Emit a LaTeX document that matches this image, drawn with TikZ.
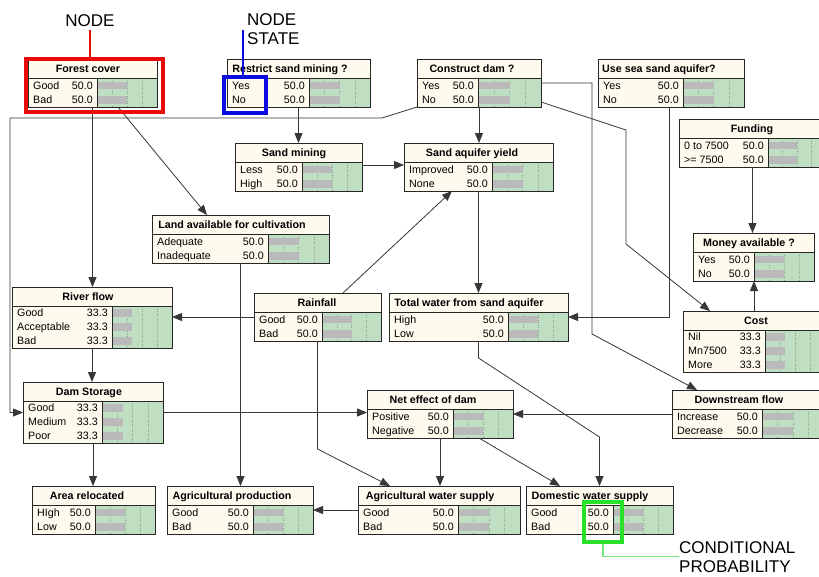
\documentclass[tikz,border=0pt]{standalone}
\usepackage{fontspec}
\setmainfont{Liberation Sans}
\usetikzlibrary{arrows.meta}

\definecolor{cream}{RGB}{255,250,238}
\definecolor{beliefgreen}{RGB}{192,222,194}
\definecolor{bargray}{RGB}{186,186,186}
\definecolor{gridgreen}{RGB}{135,160,135}
\definecolor{edgegray}{RGB}{55,55,55}
\definecolor{annotred}{RGB}{235,10,10}
\definecolor{annotblue}{RGB}{10,10,225}
\definecolor{annotgreen}{RGB}{40,225,40}
\definecolor{annotgreenline}{RGB}{120,230,120}

\tikzset{
  frame/.style={draw=black!85, line width=0.9pt},
  gridline/.style={draw=gridgreen, line width=0.5pt, dotted},
  titletext/.style={font=\bfseries\fontsize{10.7}{12}\selectfont, inner sep=0, anchor=base},
  statetext/.style={font=\fontsize{10.7}{12}\selectfont, inner sep=0},
  conn/.style={draw=edgegray, line width=0.8pt, -{Triangle[length=10pt,width=8pt]}},
  annot/.style={font=\fontsize{17}{19}\selectfont, inner sep=0, align=left},
  markbox/.style={draw=#1, line width=4pt, inner sep=0, anchor=north west},
}

% Belief-network node: #1 name, #2 left, #3 top, #4 right, #5 x of the
% divider between the state column and the bar column, #6 title centre x,
% #7 title, #8 number of states, #9 list of state/probability pairs
\newcommand{\bnnode}[9]{%
  \pgfmathsetmacro\rowh{ifthenelse(#8==3,14,14.5)}%
  \pgfmathsetmacro\bodytop{#3+19}%
  \pgfmathsetmacro\bnbot{#3+19+\rowh*#8}%
  \pgfmathsetmacro\bnw{#4-#2}%
  \pgfmathsetmacro\bnh{\bnbot-#3}%
  \pgfmathsetmacro\gw{#4-#5}%
  \fill[cream] (#2,#3) rectangle (#4,\bnbot);
  \fill[beliefgreen] (#5,\bodytop) rectangle (#4,\bnbot);
  \foreach \f in {0.25,0.5,0.75}
    \draw[gridline] ({#5+\f*\gw},\bodytop) -- ({#5+\f*\gw},\bnbot);
  \foreach [count=\i] \lab/\val in {#9} {
    \pgfmathsetmacro\rowc{\bodytop+\rowh*(\i-0.5)}
    \fill[bargray] ({#5+1},{\rowc-3.6}) rectangle ({#5+1+\val/100*(\gw-2)},{\rowc+4});
    \node[statetext, anchor=base west] at ({#2+5},{\rowc+3.8}) {\lab};
    \node[statetext, anchor=base east] at ({#5-4},{\rowc+3.8}) {\val};
  }
  \draw[frame] (#2,\bodytop) -- (#4,\bodytop) (#5,\bodytop) -- (#5,\bnbot);
  \node[titletext] at (#6,{#3+13.8}) {#7};
  \node[inner sep=0, outer sep=0, minimum width=\bnw pt, minimum height=\bnh pt,
        anchor=north west, frame] (#1) at (#2,#3) {};
}

\begin{document}
\begin{tikzpicture}[x=1pt,y=-1pt]
\useasboundingbox (0,0) rectangle (819,576);
\clip (0,0) rectangle (819,576);
\fill[white] (0,0) rectangle (819,576);

% ---------- nodes ----------
\bnnode{forest}{28}{59}{157}{97}{88}{Forest cover}{2}{Good/50.0,Bad/50.0}
\bnnode{restrict}{227}{59}{370}{309}{290}{Restrict sand mining ?}{2}{Yes/50.0,No/50.0}
\bnnode{construct}{417}{59}{541}{478}{472}{Construct dam ?}{2}{Yes/50.0,No/50.0}
\bnnode{usesea}{598}{59}{744}{683}{659}{Use sea sand aquifer?}{2}{Yes/50.0,No/50.0}
\bnnode{funding}{679}{119}{826}{768}{752}{Funding}{2}{0 to 7500/50.0,>= 7500/50.0}
\bnnode{sandmining}{235}{143}{362}{302}{294}{Sand mining}{2}{Less/50.0,High/50.0}
\bnnode{yield}{404}{143}{553}{492}{472}{Sand aquifer yield}{2}{Improved/50.0,None/50.0}
\bnnode{land}{152}{215}{329}{268}{232}{Land available for cultivation}{2}{Adequate/50.0,Inadequate/50.0}
\bnnode{money}{693}{233}{814}{754}{749}{Money available ?}{2}{Yes/50.0,No/50.0}
\bnnode{river}{12}{287}{172}{112}{88}{River flow}{3}{Good/33.3,Acceptable/33.3,Bad/33.3}
\bnnode{rainfall}{254}{293}{381}{322}{317}{Rainfall}{2}{Good/50.0,Bad/50.0}
\bnnode{totalwater}{389}{293}{568}{508}{469}{Total water from sand aquifer}{2}{High/50.0,Low/50.0}
\bnnode{cost}{683}{311}{825}{765}{756}{Cost}{3}{Nil/33.3,Mn7500/33.3,More/33.3}
\bnnode{damstorage}{23}{382}{163}{102}{89}{Dam Storage}{3}{Good/33.3,Medium/33.3,Poor/33.3}
\bnnode{neteffect}{367}{390}{513}{453}{433}{Net effect of dam}{2}{Positive/50.0,Negative/50.0}
\bnnode{downstream}{672}{390}{824}{762}{739}{Downstream flow}{2}{Increase/50.0,Decrease/50.0}
\bnnode{arearelocated}{32}{486}{155}{95}{87}{Area relocated}{2}{HIgh/50.0,Low/50.0}
\bnnode{agriprod}{167}{486}{313}{253}{232}{Agricultural production}{2}{Good/50.0,Bad/50.0}
\bnnode{agriwater}{358}{486}{520}{458}{430}{Agricultural water supply}{2}{Good/50.0,Bad/50.0}
\bnnode{domestic}{526}{486}{673}{613}{590}{Domestic water supply}{2}{Good/50.0,Bad/50.0}

% ---------- connectors ----------
\draw[conn] (forest.south) -- (forest.south |- river.north);
\draw[conn] ([xshift=90pt]forest.south west) -- ([xshift=55pt]land.north west);
\draw[conn] (construct.south west) -- ++(-35,11) -- ++(-372,0) |- (damstorage.west);
\draw[conn] (restrict.south) -- (restrict.south |- sandmining.north);
\draw[conn] ([yshift=2pt]sandmining.east) -- ([yshift=2pt]sandmining.east -| yield.west);
\draw[conn] (construct.south) -- (construct.south |- yield.north);
\draw[conn] (construct.east) -- ++(51,0) -- ++(0,251) -- ([xshift=25pt]downstream.north west);
\draw[conn] ([yshift=-19pt]construct.east) -- ++(85,28) -- ++(0,114) -- ([xshift=27pt]cost.north west);
\draw[conn] ([xshift=71pt]usesea.south west) |- (totalwater.east);
\draw[conn] (funding.south) -- (funding.south |- money.north);
\draw[conn] (cost.north) -- (cost.north |- money.south);
\draw[conn] ([xshift=89pt]rainfall.north west) -- ([xshift=48pt]yield.south west);
\draw[conn] (rainfall.west) -- (rainfall.west -| river.east);
\draw[conn] (rainfall.south) -- ++(0,108) -- ([xshift=32pt]agriwater.north west);
\draw[conn] (yield.south) -- (totalwater.north);
\draw[conn] (totalwater.south) -- ++(0,17) -- ++(121,79) -- (domestic.north);
\draw[conn] (land.south) -- (land.south |- agriprod.north);
\draw[conn] (river.south) -- (river.south |- damstorage.north);
\draw[conn] (damstorage.east) -- (damstorage.east -| neteffect.west);
\draw[conn] (damstorage.south) -- (damstorage.south |- arearelocated.north);
\draw[conn] (downstream.west) -- (downstream.west -| neteffect.east);
\draw[conn] (neteffect.south) -- (neteffect.south |- agriwater.north);
\draw[conn] ([xshift=112pt]neteffect.south west) -- ([xshift=34pt]domestic.north west);
\draw[conn] (agriwater.west) -- (agriwater.west -| agriprod.east);

% ---------- annotations ----------
\node[annot, anchor=base] (nodelbl) at (90,26.1) {NODE};
\node[markbox=annotred, minimum width=137pt, minimum height=53.5pt] (nodemark) at (24,56.5) {};
\draw[annotred, line width=1.3pt] ([yshift=-4pt]nodelbl.south) -- ([yshift=-4pt]nodelbl.south |- nodemark.north);

\node[annot, anchor=north west] (statelbl) at (247,13.9) {NODE\\STATE};
\node[markbox=annotblue, minimum width=42pt, minimum height=35.7pt] (statemark) at (222,75.3) {};
\draw[annotblue, line width=1.3pt] ([xshift=-4pt]statelbl.west) -- ([xshift=-4pt]statelbl.west |- statemark.north);

\node[annot, anchor=north west] (problbl) at (679,541) {CONDITIONAL\\PROBABILITY};
\node[markbox=annotgreen, minimum width=38.8pt, minimum height=40pt] (probmark) at (581.5,499.7) {};
\draw[annotgreenline, line width=1.2pt] (probmark.south) |- (problbl.west);
\end{tikzpicture}
\end{document}
